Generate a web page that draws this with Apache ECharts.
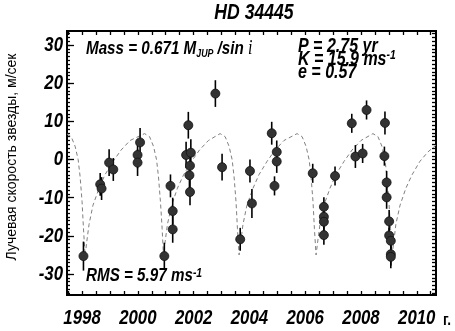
<!DOCTYPE html>
<html>
<head>
<meta charset="utf-8">
<script src="https://cdn.jsdelivr.net/npm/echarts@6/dist/echarts.min.js"></script>
<style>
html, body { margin: 0; padding: 0; background: #fff; }
#chart { width: 455px; height: 331px; }
</style>
</head>
<body>
<div id="chart"></div>
<script>
// Radial-velocity observations of HD 34445: epoch (yr), velocity (m/s), 1-sigma error (m/s)
const obsYears = [
  1998.05, 1998.65, 1998.70, 1998.97, 1999.12, 1999.99, 1999.99, 2000.08,
  2000.95, 2001.17, 2001.25, 2001.25, 2001.73, 2001.81, 2001.90, 2001.87, 2001.85, 2001.87,
  2002.78, 2003.02, 2003.67, 2004.02, 2004.09, 2004.80, 2004.98, 2004.98, 2004.90,
  2006.27, 2006.67, 2006.67, 2006.67, 2006.67, 2007.07, 2007.67, 2008.20, 2008.86,
  2007.80, 2008.06, 2008.84, 2008.92, 2008.92, 2009.01, 2009.01, 2009.07, 2009.07, 2009.07
];
const obsRv = [
  -25.3, -6.5, -7.6, -0.8, -2.6, 1.2, -0.8, 4.5,
  -25.3, -6.9, -13.5, -18.3, 1.2, 9.0, 1.8, -1.6, -4.1, -8.5,
  17.3, -2.0, -20.9, -3.0, -11.5, 6.9, 2.0, -0.5, -6.9,
  -3.6, -12.4, -15.0, -16.3, -19.8, -4.3, 9.5, 13.0, 9.6,
  0.8, 1.6, 0.9, -6.0, -9.9, -16.2, -19.9, -21.3, -24.8, -25.5
];
const obsErr = [
  3.8, 3.0, 3.0, 3.5, 3.0, 3.5, 3.5, 3.8,
  3.5, 3.0, 3.5, 3.5, 3.5, 3.5, 3.5, 3.5, 3.5, 3.5,
  3.5, 3.5, 3.0, 3.0, 3.8, 3.0, 3.0, 3.0, 2.5,
  2.5, 2.5, 2.5, 2.5, 2.5, 2.5, 2.5, 2.5, 3.0,
  3.0, 2.5, 2.5, 3.0, 3.0, 3.0, 2.0, 2.0, 3.0, 3.0
];

// Keplerian orbit model (P = 2.75 yr, K = 15.9 m/s, e = 0.57), sampled along the time axis
const curveYears = [
  1997.46, 1997.61, 1997.75, 1997.86, 1997.93, 1998.00, 1998.05, 1998.11,
  1998.16, 1998.25, 1998.39, 1998.61, 1998.82, 1999.11, 1999.40, 1999.72,
  2000.24, 2000.42, 2000.56, 2000.67, 2000.74, 2000.81, 2000.87, 2000.92,
  2000.97, 2001.06, 2001.21, 2001.42, 2001.64, 2001.92, 2002.21, 2002.53,
  2002.95, 2003.13, 2003.27, 2003.38, 2003.45, 2003.52, 2003.57, 2003.63,
  2003.68, 2003.77, 2003.91, 2004.13, 2004.34, 2004.63, 2004.92, 2005.24,
  2005.71, 2005.89, 2006.03, 2006.14, 2006.21, 2006.28, 2006.33, 2006.39,
  2006.44, 2006.53, 2006.67, 2006.89, 2007.10, 2007.39, 2007.68, 2008.00,
  2008.43, 2008.61, 2008.75, 2008.86, 2008.93, 2009.00, 2009.06, 2009.11,
  2009.17, 2009.25, 2009.40, 2009.61, 2009.83, 2010.11, 2010.40, 2010.69
];
const curveRv = [
  6.7, 6.0, 3.5, 0.0, -4.5, -11.0, -18.0, -25.2,
  -22.0, -17.0, -12.0, -7.5, -4.0, -0.5, 2.5, 5.0,
  6.8, 6.0, 3.5, 0.0, -4.5, -11.0, -18.0, -25.2,
  -22.0, -17.0, -12.0, -7.5, -4.0, -0.5, 2.5, 5.0,
  6.8, 6.0, 3.5, 0.0, -4.5, -11.0, -18.0, -25.0,
  -22.0, -17.0, -12.0, -7.5, -4.0, -0.5, 2.5, 5.0,
  6.8, 6.0, 3.5, 0.0, -4.5, -11.0, -18.0, -25.0,
  -22.0, -17.0, -12.0, -7.5, -4.0, -0.5, 2.5, 5.0,
  6.8, 6.0, 3.5, 0.0, -4.5, -11.0, -18.0, -25.0,
  -22.0, -17.0, -12.0, -7.5, -4.0, -0.5, 2.0, 3.8
];

// Axis labels and tick positions
const yearLabels = [1998, 2000, 2002, 2004, 2006, 2008, 2010];
const halfYearTicks = [1997.5, 1998, 1998.5, 1999, 1999.5, 2000, 2000.5, 2001, 2001.5, 2002, 2002.5,
  2003, 2003.5, 2004, 2004.5, 2005, 2005.5, 2006, 2006.5, 2007, 2007.5, 2008, 2008.5,
  2009, 2009.5, 2010, 2010.5];
const rvLabels = [-30, -20, -10, 0, 10, 20, 30];
const rvMinorTicks = [];
for (let v = -35; v <= 33; v++) rvMinorTicks.push(v);

const X_MIN = 1997.46, X_MAX = 2010.69;
const Y_MIN = -35.5, Y_MAX = 33.7;

// Condensed look of the lettering: a bold-italic sans squeezed horizontally
const SANS = '"Liberation Sans", Arial, sans-serif';
const SQUEEZE = 0.8;

function tokenFont(size, extra) {
  return Object.assign({
    fontFamily: SANS, fontSize: size, fontWeight: 'bold', fontStyle: 'italic', fill: '#000'
  }, extra || {});
}

const chart = echarts.init(document.getElementById('chart'), null, { renderer: 'canvas' });

const tickStyle = { color: '#000', width: 1.3 };
const noLine = { show: false, onZero: false };

chart.setOption({
  animation: false,
  backgroundColor: '#fff',
  grid: {
    left: 67, right: 19, top: 31, bottom: 36,
    show: true, borderColor: '#000', borderWidth: 2, backgroundColor: 'transparent'
  },
  xAxis: [
    {
      type: 'value', min: X_MIN, max: X_MAX, position: 'bottom',
      axisLine: noLine, splitLine: { show: false },
      axisTick: { show: true, inside: true, length: 4, lineStyle: tickStyle, customValues: halfYearTicks },
      axisLabel: { show: false }
    },
    {
      type: 'value', min: X_MIN, max: X_MAX, position: 'top',
      axisLine: noLine, splitLine: { show: false },
      axisTick: { show: true, inside: true, length: 4, lineStyle: tickStyle, customValues: halfYearTicks },
      axisLabel: { show: false }
    }
  ],
  yAxis: [
    {
      type: 'value', min: Y_MIN, max: Y_MAX, position: 'left',
      axisLine: noLine, splitLine: { show: false },
      axisTick: { show: true, inside: true, length: 7, lineStyle: tickStyle, customValues: rvLabels },
      axisLabel: { show: false }
    },
    {
      type: 'value', min: Y_MIN, max: Y_MAX, position: 'left',
      axisLine: noLine, splitLine: { show: false },
      axisTick: { show: true, inside: true, length: 3, lineStyle: tickStyle, customValues: rvMinorTicks },
      axisLabel: { show: false }
    },
    {
      type: 'value', min: Y_MIN, max: Y_MAX, position: 'right',
      axisLine: noLine, splitLine: { show: false },
      axisTick: { show: true, inside: true, length: 4, lineStyle: tickStyle, customValues: rvMinorTicks },
      axisLabel: { show: false }
    }
  ],
  series: [
    {
      name: 'orbit',
      type: 'line',
      data: curveYears.map((t, i) => [t, curveRv[i]]),
      showSymbol: false,
      symbol: 'none',
      clip: true,
      lineStyle: { color: '#808080', width: 1, type: [4, 3] },
      z: 2
    },
    {
      name: 'errors',
      type: 'custom',
      data: obsYears.map((t, i) => [t, obsRv[i], obsErr[i]]),
      renderItem: function (params, api) {
        const t = api.value(0), v = api.value(1), e = api.value(2);
        const top = api.coord([t, v + e]);
        const bot = api.coord([t, v - e]);
        return {
          type: 'line',
          shape: { x1: top[0], y1: top[1], x2: bot[0], y2: bot[1] },
          style: { stroke: '#000', lineWidth: 1.6 }
        };
      },
      z: 3
    },
    {
      name: 'rv',
      type: 'scatter',
      data: obsYears.map((t, i) => [t, obsRv[i]]),
      symbol: 'circle',
      symbolSize: 9,
      itemStyle: { color: '#333', borderColor: '#111', borderWidth: 0.8, opacity: 1 },
      z: 4
    }
  ]
});

// Text layer: tick labels placed through the axis scales, plus title and annotations
function squeezedText(x, y, style, extra) {
  return Object.assign({
    type: 'text', x: x, y: y, scaleX: SQUEEZE, silent: true, z: 10, style: style
  }, extra || {});
}

const texts = [];

yearLabels.forEach(function (yr) {
  const px = chart.convertToPixel({ xAxisIndex: 0 }, yr);
  texts.push(squeezedText(px, 318, Object.assign(tokenFont(21), {
    text: String(yr), align: 'center', verticalAlign: 'middle'
  })));
});

rvLabels.forEach(function (v) {
  const py = chart.convertToPixel({ yAxisIndex: 0 }, v);
  texts.push(squeezedText(63, py, Object.assign(tokenFont(21), {
    text: String(v), align: 'right', verticalAlign: 'middle'
  })));
});

texts.push(squeezedText(443, 320, {
  text: 'г.', fontFamily: SANS, fontSize: 17, fontWeight: 'bold', fill: '#000', verticalAlign: 'middle'
}));

texts.push(squeezedText(254, 13, Object.assign(tokenFont(22), {
  text: 'HD 34445', align: 'center', verticalAlign: 'middle'
})));

texts.push({
  type: 'text', x: 12, y: 157, rotation: Math.PI / 2, silent: true,
  style: {
    text: 'Лучевая скорость звезды, м/сек', align: 'center', verticalAlign: 'middle',
    fontFamily: SANS, fontSize: 14, fill: '#000'
  }
});

texts.push(squeezedText(86, 49, Object.assign(tokenFont(19), {
  text: 'Mass = 0.671 M{sub|JUP} /sin {it|i}', verticalAlign: 'middle',
  rich: {
    sub: tokenFont(11, { verticalAlign: 'bottom' }),
    it: { fontFamily: '"Liberation Serif", serif', fontSize: 20, fontStyle: 'italic', fontWeight: 'normal', fill: '#000' }
  }
})));

texts.push(squeezedText(298, 46, Object.assign(tokenFont(20), { text: 'P = 2.75 yr', verticalAlign: 'middle' })));
texts.push(squeezedText(298, 59, Object.assign(tokenFont(20), {
  text: 'K = 15.9 ms{sup|-1}', verticalAlign: 'middle',
  rich: { sup: tokenFont(13, { verticalAlign: 'top' }) }
})));
texts.push(squeezedText(298, 72, Object.assign(tokenFont(20), { text: 'e = 0.57', verticalAlign: 'middle' })));

texts.push(squeezedText(86, 276, Object.assign(tokenFont(19), {
  text: 'RMS = 5.97 ms{sup|-1}', verticalAlign: 'middle',
  rich: { sup: tokenFont(13, { verticalAlign: 'top' }) }
})));

chart.setOption({ graphic: texts });
</script>
</body>
</html>
